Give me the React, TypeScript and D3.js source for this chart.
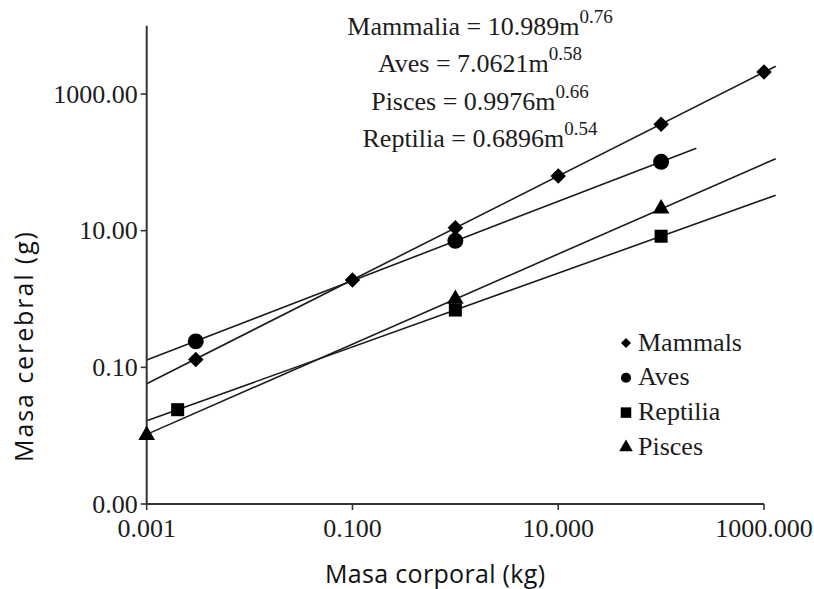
import React from "react";
import * as d3 from "d3";

// Axis ticks (log–log, every two decades)
const massTicks = [0.001, 0.1, 10, 1000];
const massTickLabels = ["0.001", "0.100", "10.000", "1000.000"];
const brainTicks = [0.001, 0.1, 10, 1000];
const brainTickLabels = ["0.00", "0.10", "10.00", "1000.00"];

// Allometric fits: brain = coef * m^exp
const fitNames = ["Mammalia", "Aves", "Pisces", "Reptilia"];
const fitCoef = [10.989, 7.0621, 0.9976, 0.6896];
const fitExp = [0.76, 0.58, 0.66, 0.54];
const fitMassStart = [0.001, 0.001, 0.001, 0.001];
const fitMassEnd = [1300, 220, 1300, 1300];

// Observed points per group (body mass kg, brain mass g)
const mammalMass = [0.003, 0.1, 1, 10, 100, 1000];
const mammalBrain = [0.13, 1.9, 11, 63, 360, 2100];
const avesMass = [0.003, 1, 100];
const avesBrain = [0.24, 7.1, 102];
const piscesMass = [0.001, 1, 100];
const piscesBrain = [0.0102, 1.0, 21];
const reptiliaMass = [0.002, 1, 100];
const reptiliaBrain = [0.024, 0.69, 8.3];

// Legend
const legendLabels = ["Mammals", "Aves", "Reptilia", "Pisces"];
const legendShapes = ["diamond", "circle", "square", "triangle"];

const INK = "#1c1c1c";
const SERIF = "Liberation Serif";
const SANS = "Open Sans";

function symbolPath(shape: string, big: boolean): { d: string; rot: number } {
  if (shape === "diamond") {
    return { d: d3.symbol().type(d3.symbolSquare).size(big ? 120 : 50)() as string, rot: 45 };
  }
  if (shape === "circle") {
    return { d: d3.symbol().type(d3.symbolCircle).size(big ? 200 : 80)() as string, rot: 0 };
  }
  if (shape === "square") {
    return { d: d3.symbol().type(d3.symbolSquare).size(big ? 170 : 110)() as string, rot: 0 };
  }
  return { d: d3.symbol().type(d3.symbolTriangle).size(big ? 120 : 80)() as string, rot: 0 };
}

export default function App() {
  const W = 814;
  const H = 589;
  const x = d3.scaleLog().domain([0.001, 1000]).range([146.7, 764]);
  const y = d3.scaleLog().domain([0.001, 10000]).range([504, 25.7]);

  const line = d3
    .line<[number, number]>()
    .x((d) => x(d[0]))
    .y((d) => y(d[1]));

  const series = [
    { mass: mammalMass, brain: mammalBrain, shape: "diamond" },
    { mass: avesMass, brain: avesBrain, shape: "circle" },
    { mass: piscesMass, brain: piscesBrain, shape: "triangle" },
    { mass: reptiliaMass, brain: reptiliaBrain, shape: "square" },
  ];

  const x0 = x(0.001);
  const y0 = y(0.001);

  return (
    <svg
      width={W}
      height={H}
      viewBox={`0 0 ${W} ${H}`}
      style={{ position: "absolute", left: 0, top: 0, background: "#fff" }}
    >
      {/* fitted power-law lines */}
      {fitNames.map((name, i) => {
        const pts: [number, number][] = [fitMassStart[i], fitMassEnd[i]].map(
          (m) => [m, fitCoef[i] * Math.pow(m, fitExp[i])] as [number, number]
        );
        return (
          <path key={name} d={line(pts) as string} fill="none" stroke={INK} strokeWidth={1.6} />
        );
      })}

      {/* axes */}
      <line x1={x0} x2={x0} y1={y(10000)} y2={y0} stroke="#333" strokeWidth={2} />
      <line x1={x0} x2={x(1000)} y1={y0} y2={y0} stroke="#333" strokeWidth={2} />
      <g fontFamily={SERIF} fontSize={26} fill={INK}>
        {brainTicks.map((t, i) => (
          <g key={"yt" + i}>
            <line x1={x0 - 6} x2={x0} y1={y(t)} y2={y(t)} stroke="#333" strokeWidth={1.6} />
            <text x={x0 - 9} y={y(t)} dy="0.33em" textAnchor="end">
              {brainTickLabels[i]}
            </text>
          </g>
        ))}
        {massTicks.map((t, i) => (
          <g key={"xt" + i}>
            <line x1={x(t)} x2={x(t)} y1={y0} y2={y0 + 6} stroke="#333" strokeWidth={1.6} />
            <text x={x(t)} y={537} textAnchor="middle">
              {massTickLabels[i]}
            </text>
          </g>
        ))}
      </g>

      {/* data points */}
      {series.map((s, si) =>
        s.mass.map((m, j) => {
          const sym = symbolPath(s.shape, true);
          return (
            <path
              key={si + "-" + j}
              d={sym.d}
              transform={`translate(${x(m)},${y(s.brain[j])}) rotate(${sym.rot})`}
              fill="#000"
            />
          );
        })
      )}

      {/* fit equations */}
      <g fontFamily={SERIF} fontSize={26} fill={INK}>
        {fitNames.map((name, i) => (
          <text key={"eq" + name} x={480} y={35 + i * 37.3} textAnchor="middle">
            {`${name} = ${fitCoef[i]}m`}
            <tspan fontSize={19} dy={-12}>
              {fitExp[i].toFixed(2)}
            </tspan>
          </text>
        ))}
      </g>

      {/* legend */}
      <g fontFamily={SERIF} fontSize={26} fill={INK}>
        {legendLabels.map((lab, i) => {
          const sym = symbolPath(legendShapes[i], false);
          const by = 350.5 + i * 34.8;
          return (
            <g key={"lg" + lab}>
              <path
                d={sym.d}
                transform={`translate(626,${by - 7.5}) rotate(${sym.rot})`}
                fill="#000"
              />
              <text x={638} y={by}>
                {lab}
              </text>
            </g>
          );
        })}
      </g>

      {/* axis titles */}
      <g fontFamily={SANS} fontSize={25} fill="#111">
        <text x={435} y={583} textAnchor="middle" textLength={220}>
          Masa corporal (kg)
        </text>
        <text
          transform="translate(33,347) rotate(-90)"
          textAnchor="middle"
          textLength={230}
        >
          Masa cerebral (g)
        </text>
      </g>
    </svg>
  );
}
